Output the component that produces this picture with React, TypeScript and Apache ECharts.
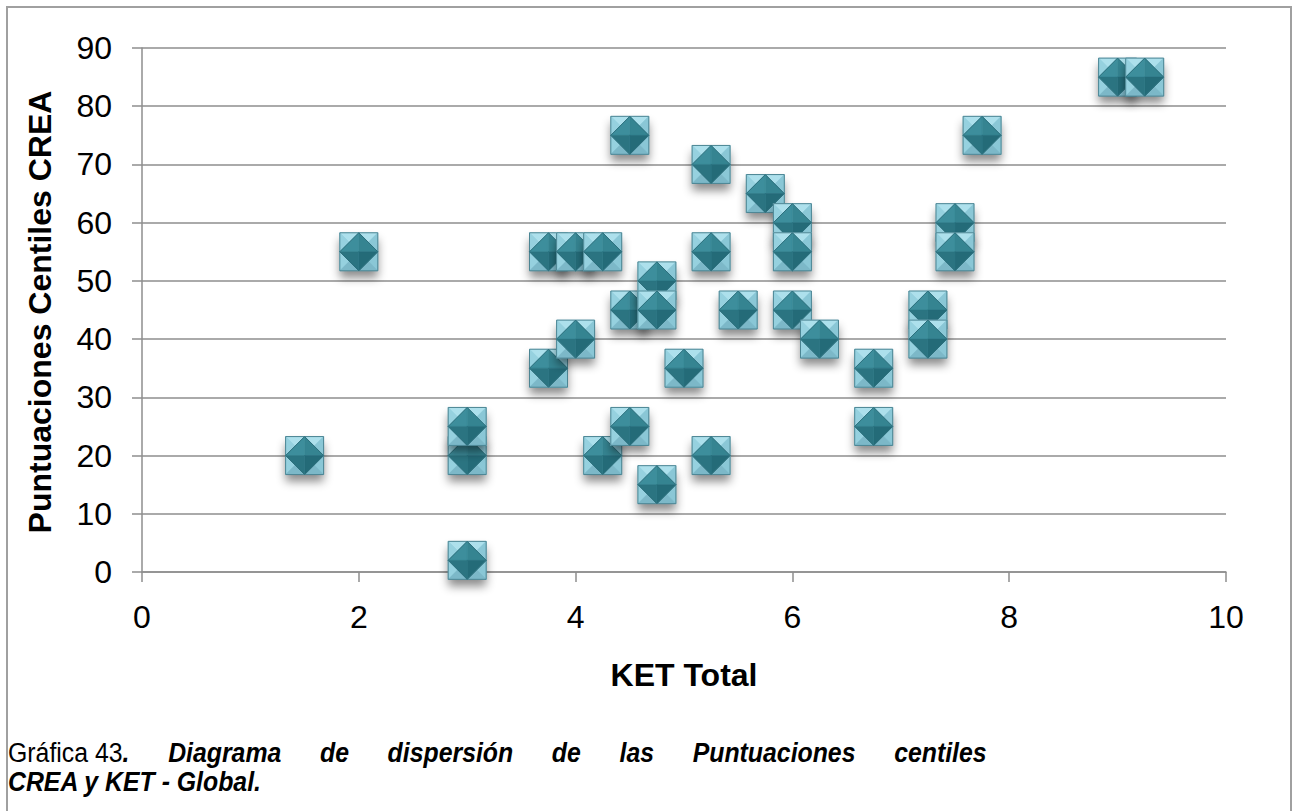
import React, { useEffect, useRef } from "react";
import * as echarts from "echarts";

const ketTotal = [1.5, 2, 3, 3, 3, 3.75, 3.75, 4, 4, 4.25, 4.25, 4.5, 4.5, 4.5, 4.75, 4.75, 4.75, 5, 5.25, 5.25, 5.25, 5.5, 5.75, 6, 6, 6, 6.25, 6.75, 6.75, 7.25, 7.25, 7.5, 7.5, 7.75, 9, 9.25];
const creaCentiles = [20, 55, 2, 20, 25, 35, 55, 40, 55, 55, 20, 75, 45, 25, 50, 45, 15, 35, 70, 55, 20, 45, 65, 60, 55, 45, 40, 35, 25, 45, 40, 60, 55, 75, 85, 85];

const xAxisTitle = "KET Total";
const yAxisTitle = "Puntuaciones Centiles CREA";
const captionLead = "Gráfica 43";
const captionWords = ["Diagrama", "de", "dispersión", "de", "las", "Puntuaciones", "centiles"];
const captionLine2 = "CREA y KET - Global.";

const FONT = "'Liberation Sans', Arial, Helvetica, sans-serif";

export default function App() {
  const ref = useRef<HTMLDivElement>(null);
  useEffect(() => {
    document.body.style.margin = "0";
    const chart = echarts.init(ref.current!, null, { renderer: "svg" });
    const data = ketTotal.map((x, i) => [x, creaCentiles[i]]);
    const richLine1 =
      `{r|${captionLead}}{b|.}{g| }` + captionWords.map((w) => `{b|${w}}`).join("{g| }");
    chart.setOption({
      animation: false,
      backgroundColor: "#ffffff",
      textStyle: { fontFamily: FONT },
      grid: { left: 142, right: 67, top: 48, bottom: 239, containLabel: false },
      xAxis: {
        type: "value",
        min: 0,
        max: 10,
        interval: 2,
        axisLine: { show: true, lineStyle: { color: "#8e8e8e", width: 1.5 } },
        axisTick: { show: true, length: 10, inside: false, lineStyle: { color: "#8e8e8e", width: 1.5 } },
        axisLabel: { color: "#000", fontSize: 32, margin: 29, fontFamily: FONT },
        splitLine: { show: false },
      },
      yAxis: {
        type: "value",
        min: 0,
        max: 90,
        interval: 10,
        axisLine: { show: true, lineStyle: { color: "#8e8e8e", width: 1.5 } },
        axisTick: { show: true, length: 10, inside: false, lineStyle: { color: "#8e8e8e", width: 1.5 } },
        axisLabel: { color: "#000", fontSize: 32, margin: 30, fontFamily: FONT },
        splitLine: { show: true, lineStyle: { color: "#8e8e8e", width: 1.5 } },
      },
      graphic: [
        {
          type: "rect",
          shape: { x: 7, y: 7, width: 1284, height: 900 },
          style: { fill: "none", stroke: "#a0a0a0", lineWidth: 2 },
          silent: true,
        },
        {
          type: "text",
          x: 684,
          y: 675,
          style: { text: xAxisTitle, font: `bold 32px ${FONT}`, fill: "#000", align: "center", verticalAlign: "middle" },
        },
        {
          type: "text",
          x: 40,
          y: 312,
          rotation: Math.PI / 2,
          style: { text: yAxisTitle, font: `bold 32px ${FONT}`, fill: "#000", align: "center", verticalAlign: "middle" },
        },
        {
          type: "text",
          x: 8,
          y: 753,
          scaleX: 0.92,
          style: {
            text: richLine1,
            align: "left",
            verticalAlign: "middle",
            rich: {
              r: { font: `27px ${FONT}`, fill: "#000" },
              b: { font: `italic bold 27px ${FONT}`, fill: "#000" },
              g: { width: 42, font: `27px ${FONT}` },
            },
          },
        },
        {
          type: "text",
          x: 8,
          y: 782,
          scaleX: 0.92,
          style: { text: captionLine2, font: `italic bold 27px ${FONT}`, fill: "#000", align: "left", verticalAlign: "middle" },
        },
      ],
      series: [
        {
          type: "custom",
          clip: false,
          data,
          renderItem: (params: any, api: any) => {
            const p = api.coord([api.value(0), api.value(1)]);
            const cx = p[0];
            const cy = p[1];
            const s = 19;
            const TL = [cx - s, cy - s];
            const TR = [cx + s, cy - s];
            const BR = [cx + s, cy + s];
            const BL = [cx - s, cy + s];
            const C = [cx, cy];
            const T = [cx, cy - s];
            const R = [cx + s, cy];
            const B = [cx, cy + s];
            const L = [cx - s, cy];
            const poly = (pts: number[][], fill: string) => ({
              type: "polygon",
              shape: { points: pts },
              style: { fill, stroke: fill, lineWidth: 0.5 },
            });
            return {
              type: "group",
              children: [
                {
                  type: "rect",
                  shape: { x: cx - s, y: cy - s, width: 2 * s, height: 2 * s },
                  style: { fill: "#8cc6d6", shadowBlur: 10, shadowOffsetY: 7, shadowColor: "rgba(0,0,0,0.45)" },
                },
                poly([TL, TR, C], "#ade0ec"),
                poly([TL, BL, C], "#96d1df"),
                poly([TR, BR, C], "#8ac7d6"),
                poly([BL, BR, C], "#7cb8c8"),
                poly([L, T, C], "#3d8e9c"),
                poly([T, R, C], "#358491"),
                poly([R, B, C], "#246b78"),
                poly([B, L, C], "#2b7481"),
                {
                  type: "rect",
                  shape: { x: cx - s, y: cy - s, width: 2 * s, height: 2 * s },
                  style: { fill: "none", stroke: "#4c8593", lineWidth: 1 },
                },
                {
                  type: "polygon",
                  shape: { points: [T, R, B, L] },
                  style: { fill: "none", stroke: "#2c6f7c", lineWidth: 1 },
                },
              ],
            };
          },
        },
      ],
    });
    return () => chart.dispose();
  }, []);
  return <div ref={ref} style={{ width: 1293, height: 811 }} />;
}
